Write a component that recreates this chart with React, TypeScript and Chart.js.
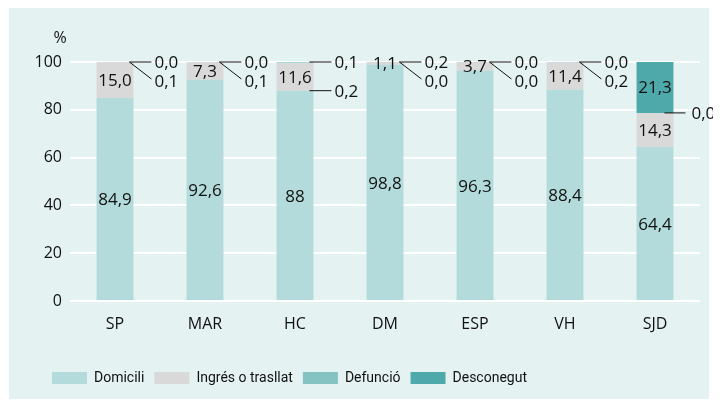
import React, { useEffect, useRef } from "react";
import { Chart, registerables } from "chart.js";

Chart.register(...registerables);

const categories = ["SP", "MAR", "HC", "DM", "ESP", "VH", "SJD"];
const domicili = [84.9, 92.6, 88, 98.8, 96.3, 88.4, 64.4];
const ingres = [15.0, 7.3, 11.6, 1.1, 3.7, 11.4, 14.3];
const defuncio = [0.1, 0.1, 0.2, 0.0, 0.0, 0.2, 0.0];
const desconegut = [0.0, 0.0, 0.1, 0.2, 0.0, 0.0, 21.3];
const yTicks = [0, 20, 40, 60, 80, 100];
const seriesNames = ["Domicili", "Ingrés o trasllat", "Defunció", "Desconegut"];
const seriesColors = ["#b3dbdb", "#d9d9d9", "#85c3c3", "#4eaaaa"];

const FONT = "'Open Sans', 'Noto Sans', sans-serif";
const LEGEND_FONT = "Roboto, 'Open Sans', sans-serif";
const TEXT = "#111111";

// layout of outside labels
const leaderMode = ["diag", "diag", "flatDrop", "diag", "diag", "diag", "flatOwn"];

const fmt = (v: number, ds: number) => {
  if (ds === 0 && Number.isInteger(v)) return String(v);
  return v.toFixed(1).replace(".", ",");
};

const legendShift = {
  id: "legendShift",
  afterLayout(chart: any) {
    if (chart.legend) chart.legend.left = 42;
  },
};

const labelPlugin = {
  id: "valueLabels",
  afterDatasetsDraw(chart: any) {
    const ctx = chart.ctx;
    const y = chart.scales.y;
    ctx.save();
    ctx.fillStyle = TEXT;
    ctx.strokeStyle = TEXT;
    ctx.lineWidth = 1;
    ctx.font = `17px ${FONT}`;
    ctx.textBaseline = "middle";
    const data = [domicili, ingres, defuncio, desconegut];
    categories.forEach((_, i) => {
      const bar = chart.getDatasetMeta(0).data[i];
      const half = bar.width / 2;
      const right = bar.x + half;
      let cum = 0;
      const small: { v: number; ds: number; base: number }[] = [];
      data.forEach((arr, ds) => {
        const v = arr[i];
        const base = cum;
        cum += v;
        if (v >= 1) {
          const yc = y.getPixelForValue(base + v / 2);
          ctx.textAlign = "center";
          ctx.fillText(fmt(v, ds), bar.x, yc + 1);
        } else {
          small.push({ v, ds, base });
        }
      });
      const topY = y.getPixelForValue(100);
      const x0 = right - 4;
      const x1 = right + 18;
      ctx.textAlign = "left";
      const desc = small.find((s) => s.ds === 3);
      const def = small.find((s) => s.ds === 2);
      if (desc) {
        ctx.beginPath();
        ctx.moveTo(x0, topY);
        ctx.lineTo(x1, topY);
        ctx.stroke();
        ctx.fillText(fmt(desc.v, 3), x1 + 3, topY + 1);
      }
      if (def) {
        const mode = leaderMode[i];
        if (mode === "diag") {
          const ly = topY + 17;
          ctx.beginPath();
          ctx.moveTo(x0, topY);
          ctx.lineTo(x1, ly);
          ctx.stroke();
          ctx.fillText(fmt(def.v, 2), x1 + 3, ly + 3);
        } else if (mode === "flatDrop") {
          const ly = y.getPixelForValue(domicili[i]);
          ctx.beginPath();
          ctx.moveTo(x0, ly);
          ctx.lineTo(x1, ly);
          ctx.stroke();
          ctx.fillText(fmt(def.v, 2), x1 + 3, ly + 1);
        } else {
          const ly = y.getPixelForValue(def.base);
          ctx.beginPath();
          ctx.moveTo(right - 9, ly);
          ctx.lineTo(right + 12, ly);
          ctx.stroke();
          ctx.fillText(fmt(def.v, 2), right + 18, ly + 1);
        }
      }
    });
    ctx.textAlign = "center";
    ctx.font = `16px ${FONT}`;
    ctx.fillText("%", chart.chartArea.left - 10, chart.chartArea.top - 24);
    ctx.restore();
  },
};

export default function App() {
  const ref = useRef<HTMLCanvasElement>(null);
  useEffect(() => {
    const canvas = ref.current!;
    const chart = new Chart(canvas, {
      type: "bar",
      data: {
        labels: categories,
        datasets: [domicili, ingres, defuncio, desconegut].map((d, k) => ({
          label: seriesNames[k],
          data: d,
          backgroundColor: seriesColors[k],
          borderWidth: 0,
          categoryPercentage: 1,
          barPercentage: 0.41,
        })),
      },
      options: {
        responsive: false,
        animation: false,
        layout: { padding: { top: 62, left: 0, right: 21, bottom: 12 } },
        plugins: {
          tooltip: { enabled: false },
          legend: {
            position: "bottom",
            align: "start",
            labels: {
              boxWidth: 35,
              boxHeight: 12,
              padding: 10,
              color: TEXT,
              font: { family: LEGEND_FONT, size: 14 },
            },
          },
        },
        scales: {
          x: {
            stacked: true,
            grid: { display: false, drawTicks: false },
            border: { display: false },
            ticks: { color: TEXT, font: { family: FONT, size: 16 }, padding: 14 },
            afterFit: (s: any) => {
              s.height = 60;
            },
          },
          y: {
            stacked: true,
            min: 0,
            max: 100,
            afterBuildTicks: (s: any) => {
              s.ticks = yTicks.map((v) => ({ value: v }));
            },
            grid: { color: "#ffffff", lineWidth: 2, drawTicks: false },
            border: { display: false },
            ticks: { color: TEXT, font: { family: FONT, size: 16 }, padding: 8 },
            afterFit: (s: any) => {
              s.width = 70;
            },
          },
        },
      },
      plugins: [labelPlugin, legendShift],
    });
    return () => chart.destroy();
  }, []);
  return (
    <div style={{ position: "relative", width: 721, height: 407, margin: -8 }}>
      <div
        style={{
          position: "absolute",
          left: 9,
          top: 8,
          width: 700,
          height: 399,
          background: "#e4f2f2",
        }}
      />
      <canvas
        ref={ref}
        width={721}
        height={407}
        style={{ position: "absolute", left: 0, top: 0 }}
      />
    </div>
  );
}
